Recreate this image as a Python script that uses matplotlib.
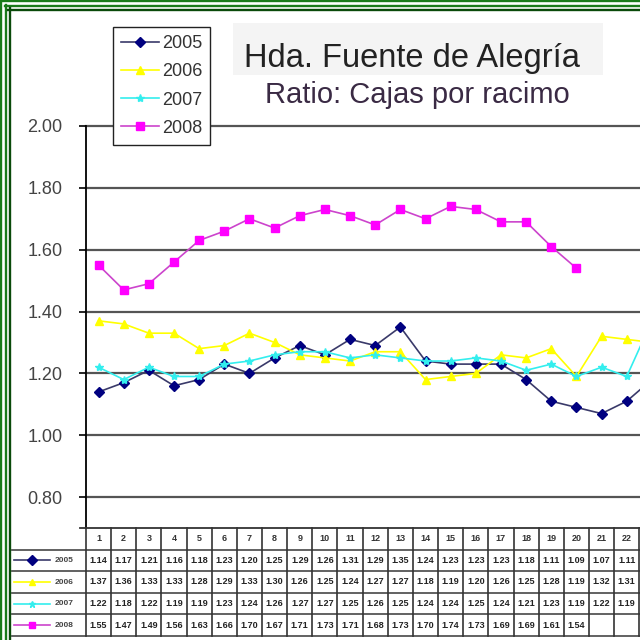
import numpy as np
import matplotlib
matplotlib.use('Agg')
import matplotlib.pyplot as plt
from matplotlib.lines import Line2D
from matplotlib.patches import Rectangle

# datos leidos de la tabla del grafico (la columna 23 es estimada, queda cortada)
semanas = list(range(1, 24))
r2005 = [1.14, 1.17, 1.21, 1.16, 1.18, 1.23, 1.20, 1.25, 1.29, 1.26, 1.31, 1.29,
         1.35, 1.24, 1.23, 1.23, 1.23, 1.18, 1.11, 1.09, 1.07, 1.11, 1.18]
r2006 = [1.37, 1.36, 1.33, 1.33, 1.28, 1.29, 1.33, 1.30, 1.26, 1.25, 1.24, 1.27,
         1.27, 1.18, 1.19, 1.20, 1.26, 1.25, 1.28, 1.19, 1.32, 1.31, 1.30]
r2007 = [1.22, 1.18, 1.22, 1.19, 1.19, 1.23, 1.24, 1.26, 1.27, 1.27, 1.25, 1.26,
         1.25, 1.24, 1.24, 1.25, 1.24, 1.21, 1.23, 1.19, 1.22, 1.19, 1.37]
r2008 = [1.55, 1.47, 1.49, 1.56, 1.63, 1.66, 1.70, 1.67, 1.71, 1.73, 1.71, 1.68,
         1.73, 1.70, 1.74, 1.73, 1.69, 1.69, 1.61, 1.54]
anios = ['2005', '2006', '2007', '2008']
yticks = [0.80, 1.00, 1.20, 1.40, 1.60, 1.80, 2.00]
ncols_tabla = 22  # columnas visibles de la tabla

series = [r2005, r2006, r2007, r2008]
lcolors = ['#3a3a6a', '#ffff00', '#33eeee', '#cc44cc']
mcolors = ['#000080', '#ffff00', '#33eeee', '#ff00ff']
markers = ['D', '^', '*', 's']
msizes = [5, 6, 6, 6]

W, H = 640, 640
colw = 25.15
fig = plt.figure(figsize=(6.4, 6.4), dpi=100)
fig.patch.set_facecolor('white')

# grafico
ax = fig.add_axes([86 / W, 1 - 528 / H, 23 * colw / W, (528 - 126) / H])
for s, lc, mc, m, ms, lab in zip(series, lcolors, mcolors, markers, msizes, anios):
    ax.plot(semanas[:len(s)], s, color=lc, lw=1.2, marker=m, ms=ms,
            mfc=mc, mec=mc, label=lab, clip_on=True)
ax.set_xlim(0.5, 23.5)
ax.set_ylim(0.70, 2.00)
ax.set_yticks(yticks)
ax.set_yticklabels(['%.2f' % v for v in yticks], family='Liberation Sans',
                   fontsize=13, color='#444444')
ax.set_xticks([])
for sp in ['top', 'right', 'bottom']:
    ax.spines[sp].set_visible(False)
ax.spines['left'].set_linewidth(1.3)
ax.tick_params(axis='y', length=5, width=1.2, pad=12, direction='out')
for v in yticks:
    ax.axhline(v, color='#555555', lw=1.6, zorder=0, clip_on=False)

leg = ax.legend(loc='upper left', bbox_to_anchor=(113 / W, 1 - 27 / H),
                bbox_transform=fig.transFigure, borderaxespad=0,
                prop={'family': 'Liberation Sans', 'size': 13},
                handlelength=2.1, handletextpad=0.15, labelspacing=0.62,
                borderpad=0.45, fancybox=False, framealpha=1)
leg.get_frame().set_edgecolor('#222222')
leg.get_frame().set_linewidth(1.0)
for t in leg.get_texts():
    t.set_color('#333333')

# tabla de datos
tax = fig.add_axes([86 / W, 1 - 636 / H, 23 * colw / W, (636 - 528) / H])
tax.set_xlim(0.5, 23.5)
tax.set_ylim(5, 0)
tax.axis('off')
xl = 0.5 - (86 - 12) / colw
tax.plot([0.5 - 6 / colw, 23.5], [0, 0], color='#333333', lw=1.3, clip_on=False)
for r in range(1, 6):
    tax.plot([xl, 23.5], [r, r], color='#555555', lw=1.3, clip_on=False)
for k in range(24):
    tax.plot([k + 0.5, k + 0.5], [0, 5], color='#333333', lw=1.2, clip_on=False)
for c in semanas[:ncols_tabla]:
    tax.text(c, 0.5, str(c), ha='center', va='center', fontsize=6.5,
             fontweight='bold', color='#333333', family='Liberation Sans')
for i, (s, lc, mc, m, lab) in enumerate(zip(series, lcolors, mcolors, markers, anios)):
    yr = i + 1.5
    tax.plot([0.5 - 72 / colw, 0.5 - 36 / colw], [yr, yr], color=lc, lw=1.2, clip_on=False)
    tax.plot([0.5 - 54 / colw], [yr], marker=m, ms=5, color=mc, clip_on=False)
    tax.text(0.5 - 31 / colw, yr, lab, ha='left', va='center', fontsize=6,
             fontweight='bold', color='#444444', family='Liberation Sans', clip_on=False)
    for c, v in zip(semanas[:ncols_tabla], s[:ncols_tabla]):
        tax.text(c, yr, '%.2f' % v, ha='center', va='center', fontsize=6.5,
                 fontweight='bold', color='#222222', family='Liberation Sans')

# titulo
fig.patches.append(Rectangle((233 / W, 1 - 75 / H), (603 - 233) / W, (75 - 23) / H,
                             transform=fig.transFigure, facecolor='#f4f4f4',
                             edgecolor='none', zorder=0))
fig.text(412 / W, 1 - 67 / H, 'Hda. Fuente de Alegría', ha='center', va='baseline',
         family='Liberation Sans', fontsize=23.5, color='#222222')
fig.text(417 / W, 1 - 103 / H, 'Ratio: Cajas por racimo', ha='center', va='baseline',
         family='Liberation Sans', fontsize=21, color='#3a2a44')

# marco verde
for p, col in [(1.2, '#1a7a1a'), (5.8, '#1a7a1a'), (9.5, '#0a4a0a')]:
    s0 = p - 1.2
    fig.add_artist(Line2D([s0 / W, 1], [1 - p / H, 1 - p / H], color=col, lw=1.7,
                          transform=fig.transFigure))
    fig.add_artist(Line2D([p / W, p / W], [0, 1 - s0 / H], color=col, lw=1.7,
                          transform=fig.transFigure))

fig.savefig('out.png', dpi=100)
